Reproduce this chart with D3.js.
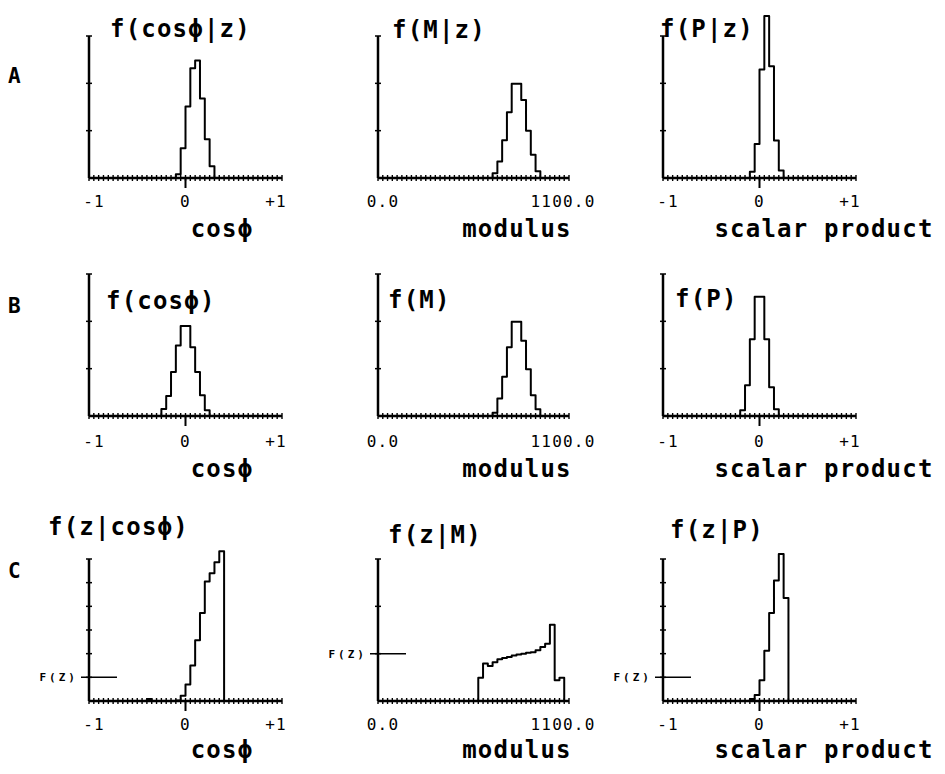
<!DOCTYPE html>
<html>
<head>
<meta charset="utf-8">
<script src="https://cdn.jsdelivr.net/npm/d3@7"></script>
<style>
  body { margin: 0; background: #fff; }
  svg { display: block; }
  text { font-family: "DejaVu Sans Mono", monospace; fill: #000; }
</style>
</head>
<body>
<svg id="chart" width="945" height="774"></svg>
<script>
// histogram bin widths
const cosBin = 0.05;
const modBin = 27.5;

const rowLetters = ['A', 'B', 'C'];
const titles = ['f(cosϕ|z)', 'f(M|z)', 'f(P|z)', 'f(cosϕ)', 'f(M)', 'f(P)', 'f(z|cosϕ)', 'f(z|M)', 'f(z|P)'];
const axisLabels = ['cosϕ', 'modulus', 'scalar product'];
const cosTickValues = [-1, 0, 1];
const cosTickLabels = ['-1', '0', '+1'];
const modTickValues = [0, 1100];
const modTickLabels = ['0.0', '1100.0'];

// first bin edge of each histogram, then the bin heights (in y-tick units)
const a1Start = -0.1;
const a1Values = [0.08, 0.63, 1.51, 2.32, 2.48, 1.68, 0.82, 0.25];
const a2Start = 660;
const a2Values = [0.1, 0.35, 0.8, 1.39, 1.99, 1.99, 1.65, 1.0, 0.49, 0.14];
const a3Start = -0.1;
const a3Values = [0.13, 0.72, 2.29, 3.42, 2.36, 0.79, 0.16];

const b1Start = -0.25;
const b1Values = [0.15, 0.42, 0.93, 1.49, 1.9, 1.9, 1.45, 0.93, 0.44, 0.12];
const b2Start = 660;
const b2Values = [0.07, 0.37, 0.83, 1.45, 1.99, 1.99, 1.59, 0.99, 0.44, 0.14];
const b3Start = -0.2;
const b3Values = [0.12, 0.65, 1.62, 2.52, 2.52, 1.62, 0.61, 0.14];

const c1Start = -0.4;
const c1Values = [0.08, 0, 0, 0, 0, 0, 0.02, 0.22, 0.7, 1.5, 2.57, 3.72, 5.05, 5.4, 5.86, 6.33];
const c2Start = 577.5;
const c2Values = [0.49, 0.79, 0.74, 0.82, 0.88, 0.91, 0.93, 0.96, 0.98, 1.0, 1.02, 1.03, 1.07, 1.14, 1.21, 1.61, 0.44, 0.49];
const c3Start = -0.1;
const c3Values = [0.08, 0.25, 0.88, 2.12, 3.72, 5.09, 6.21, 4.35];

// y-axis tick intervals per panel, and level of the F(z) line (row C)
const yIntervals = [3, 3, 3, 3, 3, 3, 6, 3, 6];
const fzLevel = [null, null, null, null, null, null, 1, 1, 1];

const starts = [a1Start, a2Start, a3Start, b1Start, b2Start, b3Start, c1Start, c2Start, c3Start];
const values = [a1Values, a2Values, a3Values, b1Values, b2Values, b3Values, c1Values, c2Values, c3Values];

// layout
const colX = [89, 378, 663];
const rowBase = [178, 416, 701];
const plotH = 142;
const tickLabelY = [207, 447, 730];
const axisLabelY = [237, 477, 758];
const axisLabelX = [222, 517, 824];
const titlePos = [[110, 37], [392, 38], [660, 37], [106, 309], [388, 308], [675, 307], [48, 535], [388, 543], [670, 538]];
const letterPos = [[8, 83], [8, 313], [8, 578]];

const svg = d3.select('#chart');

rowLetters.forEach((l, i) => {
  svg.append('text')
    .attr('x', letterPos[i][0]).attr('y', letterPos[i][1])
    .attr('font-size', 21).attr('font-weight', 'bold')
    .text(l);
});

titles.forEach((title, p) => {
  const row = Math.floor(p / 3);
  const col = p % 3;
  const isMod = col === 1;
  const x0 = colX[col];
  const base = rowBase[row];
  const w = isMod ? 191 : 193;
  const binW = isMod ? modBin : cosBin;

  const x = d3.scaleLinear()
    .domain(isMod ? [0, 1100] : [-1, 1])
    .range([x0, x0 + w]);
  const y = d3.scaleLinear()
    .domain([0, yIntervals[p]])
    .range([base, base - plotH]);

  const g = svg.append('g');

  // x axis with a minor tick on every bin edge
  g.append('line')
    .attr('x1', x.range()[0]).attr('x2', x.range()[1])
    .attr('y1', base).attr('y2', base)
    .attr('stroke', '#000').attr('stroke-width', 2.5);
  const edges = d3.range(0, 41).map(i => x.domain()[0] + i * binW);
  g.selectAll('line.minor')
    .data(edges)
    .join('line')
    .attr('class', 'minor')
    .attr('x1', d => x(d)).attr('x2', d => x(d))
    .attr('y1', base - 3).attr('y2', base + 3)
    .attr('stroke', '#000').attr('stroke-width', 1.4);
  if (!isMod) {
    g.append('line')
      .attr('x1', x(0)).attr('x2', x(0))
      .attr('y1', base).attr('y2', base + 10)
      .attr('stroke', '#000').attr('stroke-width', 2);
  }

  // tick labels
  const tv = isMod ? modTickValues : cosTickValues;
  const tl = isMod ? modTickLabels : cosTickLabels;
  g.selectAll('text.tick')
    .data(tv)
    .join('text')
    .attr('class', 'tick')
    .attr('x', (d, i) => x(d) + (i === 0 ? 5 : (i === tv.length - 1 ? -6 : 0)))
    .attr('y', tickLabelY[row])
    .attr('text-anchor', 'middle')
    .attr('font-size', 16)
    .attr('letter-spacing', 1.2)
    .text((d, i) => tl[i]);

  // y axis with tick crosses
  g.append('line')
    .attr('x1', x0).attr('x2', x0)
    .attr('y1', y(0)).attr('y2', y(yIntervals[p]))
    .attr('stroke', '#000').attr('stroke-width', 2.5);
  g.selectAll('line.ytick')
    .data(d3.range(1, yIntervals[p] + 1))
    .join('line')
    .attr('class', 'ytick')
    .attr('x1', x0 - 3).attr('x2', x0 + 3)
    .attr('y1', d => y(d)).attr('y2', d => y(d))
    .attr('stroke', '#000').attr('stroke-width', 1.5);

  if (fzLevel[p] !== null) {
    g.append('line')
      .attr('x1', x0 - 8).attr('x2', x0 + 28)
      .attr('y1', y(fzLevel[p])).attr('y2', y(fzLevel[p]))
      .attr('stroke', '#000').attr('stroke-width', 1.5);
    g.append('text')
      .attr('x', x0 - 11).attr('y', y(fzLevel[p]) + 4)
      .attr('text-anchor', 'end')
      .attr('font-size', 11)
      .attr('font-weight', 'bold')
      .attr('letter-spacing', 3)
      .text('F(Z)');
  }

  // title, with a blank box behind it like the plotter left
  const t = g.append('text')
    .attr('x', titlePos[p][0]).attr('y', titlePos[p][1])
    .attr('font-size', 24)
    .attr('font-weight', 'bold')
    .attr('letter-spacing', 1.2)
    .text(title);
  const bb = t.node().getBBox();
  g.insert('rect', 'text')
    .attr('x', bb.x - 2).attr('y', bb.y)
    .attr('width', bb.width + 4).attr('height', bb.height + 4)
    .attr('fill', '#fff');

  // axis label
  g.append('text')
    .attr('x', axisLabelX[col]).attr('y', axisLabelY[row])
    .attr('text-anchor', 'middle')
    .attr('font-size', 24)
    .attr('font-weight', 'bold')
    .attr('letter-spacing', 1.2)
    .text(axisLabels[col]);

  // histogram as a step line
  const vals = values[p];
  const pts = [[starts[p], 0]]
    .concat(vals.map((v, i) => [starts[p] + i * binW, v]))
    .concat([[starts[p] + vals.length * binW, 0]]);
  const line = d3.line()
    .x(d => x(d[0]))
    .y(d => y(d[1]))
    .curve(d3.curveStepAfter);
  g.append('path')
    .attr('d', line(pts))
    .attr('fill', 'none')
    .attr('stroke', '#000')
    .attr('stroke-width', 2)
    .attr('stroke-linejoin', 'round');
});
</script>
</body>
</html>
